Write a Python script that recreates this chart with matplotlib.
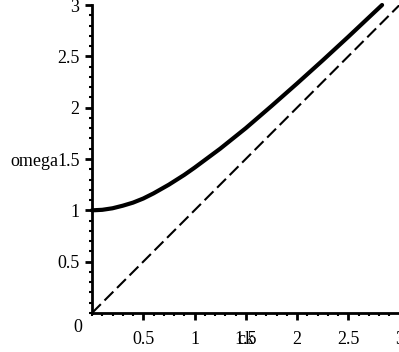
import numpy as np
import matplotlib.pyplot as plt
from matplotlib.ticker import MultipleLocator

plt.rcParams['font.family'] = ['Liberation Serif', 'DejaVu Serif']

# dispersion curve omega(ck), read at regular steps
ck = [0.0, 0.1, 0.2, 0.3, 0.4, 0.5, 0.6, 0.75, 0.9, 1.0, 1.25, 1.5,
      1.75, 2.0, 2.25, 2.5, 2.75, 2.83]
omega = [1.0, 1.005, 1.02, 1.045, 1.075, 1.115, 1.165, 1.25, 1.345, 1.415,
         1.60, 1.80, 2.015, 2.235, 2.46, 2.69, 2.925, 3.0]

# light line omega = ck
ck_light = [0.0, 0.5, 1.0, 1.5, 2.0, 2.5, 3.0]
omega_light = [0.0, 0.5, 1.0, 1.5, 2.0, 2.5, 3.0]

fig = plt.figure(figsize=(3.99, 3.52), dpi=100)
ax = fig.add_axes([92/399, 39/352, 307.5/399, 308/352])

ax.plot(ck, omega, color='black', lw=3, solid_capstyle='round', clip_on=False)
ax.plot(ck_light, omega_light, color='black', lw=1.5, dashes=(6, 2.5))

ax.set_xlim(0, 3)
ax.set_ylim(0, 3)
for s in ['top', 'right']:
    ax.spines[s].set_visible(False)
for s in ['left', 'bottom']:
    ax.spines[s].set_linewidth(2)

ax.xaxis.set_major_locator(MultipleLocator(0.5))
ax.yaxis.set_major_locator(MultipleLocator(0.5))
ax.xaxis.set_minor_locator(MultipleLocator(0.1))
ax.yaxis.set_minor_locator(MultipleLocator(0.1))
ax.tick_params(which='major', length=5, width=2, labelsize=13, color='black')
ax.tick_params(which='minor', length=2.5, width=1.5)
ax.tick_params(axis='x', pad=8)
ax.tick_params(axis='y', pad=4)

ax.set_xticks([0.5, 1, 1.5, 2, 2.5, 3])
ax.set_xticklabels(['0.5', '1', '1.5', '2', '2.5', '3'])
ax.set_yticks([0.5, 1, 1.5, 2, 2.5, 3])
ax.set_yticklabels(['0.5', '1', '1.5', '2', '2.5', '3'])

fig.text(78/399, 1 - 328/352, '0', fontsize=13, ha='center', va='center')
fig.text(34/399, 1 - 162/352, 'omega', fontsize=13, ha='center', va='center')
fig.text(246/399, 1 - 340/352, 'ck', fontsize=13, ha='center', va='center')

fig.savefig('out.png', dpi=100)
